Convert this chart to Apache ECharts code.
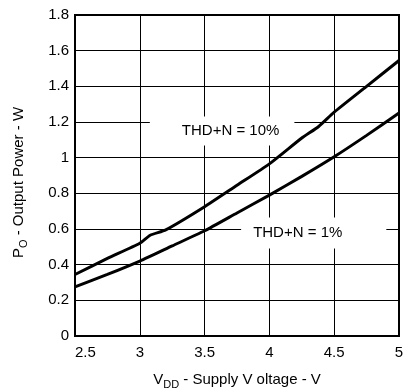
<!DOCTYPE html>
<html>
<head>
<meta charset="utf-8">
<script src="https://cdn.jsdelivr.net/npm/echarts@6/dist/echarts.min.js"></script>
<style>
  html, body { margin: 0; padding: 0; background: #fff; }
  #chart { width: 404px; height: 389px; }
</style>
</head>
<body>
<div id="chart"></div>
<script>
// Supply voltage (V) and output power (W) at two distortion levels
const vddThd10 = [2.5, 2.75, 3.0, 3.08, 3.2, 3.5, 3.75, 4.0, 4.25, 4.38, 4.5, 4.75, 5.0];
const powerThd10 = [0.345, 0.435, 0.52, 0.565, 0.595, 0.725, 0.845, 0.965, 1.11, 1.175, 1.255, 1.40, 1.545];

const vddThd1 = [2.5, 2.75, 3.0, 3.25, 3.5, 3.75, 4.0, 4.25, 4.5, 4.75, 5.0];
const powerThd1 = [0.275, 0.345, 0.42, 0.505, 0.59, 0.69, 0.79, 0.895, 1.005, 1.125, 1.25];

const curveNames = ['THD+N = 10%', 'THD+N = 1%'];
// where each curve label sits, in axis units
const labelAt = [[3.635, 1.15], [4.342, 0.578]];

const FONT = 'Liberation Sans, Arial, sans-serif';

function pairs(xs, ys) { return xs.map((x, i) => [x, ys[i]]); }

function labelMark(name, coord, padding) {
  return {
    symbol: 'rect', symbolSize: 0, silent: true, z: 1,
    data: [{ coord: coord }],
    label: {
      show: true, position: 'inside', formatter: name,
      color: '#000', fontSize: 15, fontFamily: FONT,
      backgroundColor: '#fff', padding: padding
    }
  };
}

const subStyle = { fontSize: 11, fontFamily: FONT, color: '#000', padding: [9, 0, 0, 0] };

const chart = echarts.init(document.getElementById('chart'), null, { renderer: 'canvas' });
chart.setOption({
  backgroundColor: '#fff',
  animation: false,
  grid: {
    left: 75, right: 5, top: 15, bottom: 53,
    outerBoundsMode: 'none', containLabel: false,
    show: true, borderColor: '#000', borderWidth: 2, backgroundColor: 'transparent', z: 4
  },
  xAxis: {
    type: 'value', min: 2.5, max: 5, interval: 0.5,
    name: 'V{sub|DD} - Supply V oltage - V',
    nameLocation: 'middle', nameGap: 34,
    nameTextStyle: { color: '#000', fontSize: 15, fontFamily: FONT, rich: { sub: subStyle } },
    axisLine: { show: false },
    axisTick: { show: false },
    axisLabel: { color: '#000', fontSize: 15, fontFamily: FONT, margin: 9, alignMinLabel: 'left' },
    splitLine: { show: true, lineStyle: { color: '#000', width: 1 } }
  },
  yAxis: {
    type: 'value', min: 0, max: 1.8, interval: 0.2,
    name: 'P{sub|O} - Output Power - W',
    nameLocation: 'middle', nameGap: 46,
    nameTextStyle: { color: '#000', fontSize: 15, fontFamily: FONT, padding: [0, 14, 0, 0], rich: { sub: subStyle } },
    axisLine: { show: false },
    axisTick: { show: false },
    axisLabel: { color: '#000', fontSize: 15, fontFamily: FONT, margin: 6 },
    splitLine: { show: true, lineStyle: { color: '#000', width: 1 } }
  },
  series: [
    {
      name: curveNames[0], type: 'line', data: pairs(vddThd10, powerThd10),
      showSymbol: false, smooth: 0.2, z: 3,
      lineStyle: { color: '#000', width: 3 },
      markPoint: labelMark(curveNames[0], labelAt[0], [7, 15, 7, 32])
    },
    {
      name: curveNames[1], type: 'line', data: pairs(vddThd1, powerThd1),
      showSymbol: false, smooth: 0.2, z: 3,
      lineStyle: { color: '#000', width: 3 },
      markPoint: labelMark(curveNames[1], labelAt[1], [8, 44, 8, 12])
    }
  ]
});
</script>
</body>
</html>
